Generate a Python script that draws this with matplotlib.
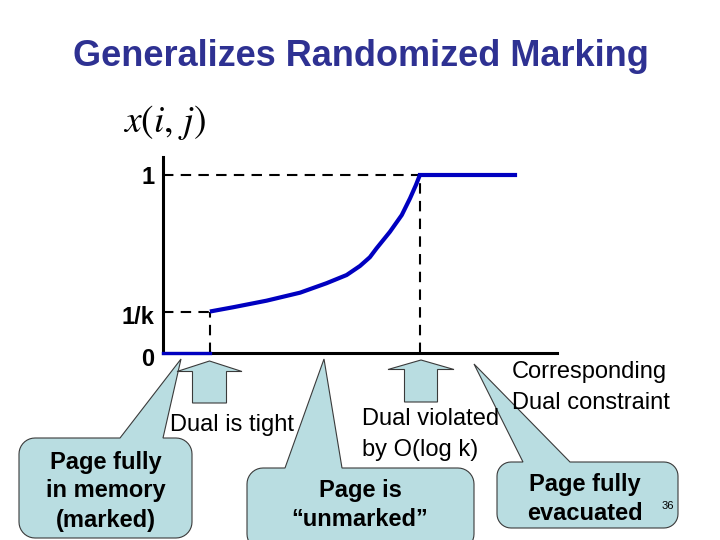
import numpy as np
import matplotlib
matplotlib.use("Agg")
import matplotlib.pyplot as plt
from matplotlib.patches import Polygon
from matplotlib.transforms import ScaledTranslation

plt.rcParams['font.family'] = ['Liberation Sans', 'DejaVu Sans']

# ---- data ----
title = "Generalizes Randomized Marking"
inv_k = 0.233                     # value of 1/k on the y scale
x_start = 0.119                   # where the page starts being "unmarked"
x_full = 0.652                    # where the page becomes fully evacuated
x_end = 0.893
curve_x = [0.119, 0.178, 0.263, 0.348, 0.415, 0.466, 0.500, 0.525, 0.542,
           0.576, 0.606, 0.627, 0.642, 0.652]
curve_y = [0.233, 0.257, 0.294, 0.339, 0.392, 0.438, 0.489, 0.538, 0.588,
           0.681, 0.775, 0.869, 0.944, 1.0]
ytick_vals = [0, inv_k, 1]
ytick_labels = ["0", "1/k", "1"]

BLUE = "#0000C0"
FILL = "#B9DDE1"
EDGE = "#3a3a3a"

fig = plt.figure(figsize=(7.2, 5.4), dpi=100)

# overlay axes in pixel coordinates (y downwards)
ov = fig.add_axes([0, 0, 1, 1])
ov.set_xlim(0, 720)
ov.set_ylim(540, 0)
ov.axis("off")

# chart axes
W, H = 720, 540
ax_l, ax_r, ax_b, ax_t = 163, 557, 353, 157
ax = fig.add_axes([ax_l / W, (H - ax_b) / H, (ax_r - ax_l) / W, (ax_b - ax_t) / H])
ax.set_facecolor("none")
ax.set_xlim(0, 1)
ax.set_ylim(0, (ax_b - ax_t) / (ax_b - 175))
for s in ["top", "right"]:
    ax.spines[s].set_visible(False)
for s in ["left", "bottom"]:
    ax.spines[s].set_linewidth(2.2)
    ax.spines[s].set_color("black")
ax.set_xticks([])
ax.set_yticks(ytick_vals)
ax.set_yticklabels(ytick_labels, fontsize=17, fontweight="bold")
ax.tick_params(axis="y", length=0, pad=6)
lbls = ax.get_yticklabels()
lbls[0].set_transform(lbls[0].get_transform() + ScaledTranslation(0, -0.045, fig.dpi_scale_trans))
lbls[1].set_transform(lbls[1].get_transform() + ScaledTranslation(0, -0.03, fig.dpi_scale_trans))

dash = dict(color="black", lw=1.5, ls=(0, (5, 3.5)), clip_on=False, zorder=2)
ax.plot([0, x_full], [1, 1], **dash)
ax.plot([x_full, x_full], [0, 1], **dash)
ax.plot([0, x_start], [inv_k, inv_k], **dash)
ax.plot([x_start, x_start], [0, inv_k], **dash)

ax.plot([0, x_start], [0, 0], color=BLUE, lw=2.4, clip_on=False, zorder=3)
ax.plot(curve_x, curve_y, color=BLUE, lw=3, clip_on=False, zorder=3,
        solid_capstyle="butt", solid_joinstyle="round")
ax.plot([x_full, x_end], [1, 1], color=BLUE, lw=3, clip_on=False, zorder=3)

# title and y-label
ov.text(361, 56, title, fontsize=26, fontweight="bold", color="#2E3192",
        ha="center", va="center")
ov.text(165, 123, r"$x(i,\, j)$", fontsize=27, math_fontfamily="stix",
        ha="center", va="center")


def callout(x0, y0, x1, y1, r, bx0, bx1, tip):
    verts = [(x0 + r, y0), (bx0, y0), tip, (bx1, y0), (x1 - r, y0)]

    def arc(cx, cy, a0, a1):
        t = np.linspace(np.radians(a0), np.radians(a1), 10)
        return list(zip(cx + r * np.cos(t), cy + r * np.sin(t)))
    verts += arc(x1 - r, y0 + r, -90, 0)
    verts += [(x1, y1 - r)]
    verts += arc(x1 - r, y1 - r, 0, 90)
    verts += [(x0 + r, y1)]
    verts += arc(x0 + r, y1 - r, 90, 180)
    verts += [(x0, y0 + r)]
    verts += arc(x0 + r, y0 + r, 180, 270)
    ov.add_patch(Polygon(verts, closed=True, facecolor=FILL, edgecolor=EDGE,
                         lw=0.8, zorder=1))


callout(19, 438, 192, 538, 16, 120, 163, (181, 359))
callout(247, 468, 474, 550, 16, 285, 342, (324, 359))
callout(497, 462, 678, 528, 14, 523, 570, (474, 364))


def block_arrow(cx, tip_y, hw, sw, head_y, bot_y):
    verts = [(cx, tip_y), (cx + hw, head_y), (cx + sw, head_y), (cx + sw, bot_y),
             (cx - sw, bot_y), (cx - sw, head_y), (cx - hw, head_y)]
    ov.add_patch(Polygon(verts, closed=True, facecolor=FILL, edgecolor=EDGE,
                         lw=0.8, zorder=1))


block_arrow(209.5, 361, 32.5, 17, 371.5, 403)
block_arrow(421, 360, 33, 16.5, 369.5, 402)

# texts
tkw = dict(fontsize=17, color="black", zorder=5)
ov.text(170, 425, "Dual is tight", ha="left", va="center", **tkw)
ov.text(362, 419, "Dual violated", ha="left", va="center", **tkw)
ov.text(362, 450, "by O(log k)", ha="left", va="center", **tkw)
ov.text(512, 372, "Corresponding", ha="left", va="center", **tkw)
ov.text(512, 403, "Dual constraint", ha="left", va="center", **tkw)

bkw = dict(fontsize=17, fontweight="bold", color="black", ha="center",
           va="center", zorder=5)
for txt, y in [("Page fully", 462), ("in memory", 491), ("(marked)", 520)]:
    ov.text(106, y, txt, **bkw)
for txt, y in [("Page is", 490), ("\u201cunmarked\u201d", 519)]:
    ov.text(360, y, txt, **bkw)
for txt, y in [("Page fully", 485), ("evacuated", 513)]:
    ov.text(585, y, txt, **bkw)
ov.text(668, 506, "36", fontsize=8, ha="center", va="center", zorder=5)

fig.savefig("out.png", dpi=100)
